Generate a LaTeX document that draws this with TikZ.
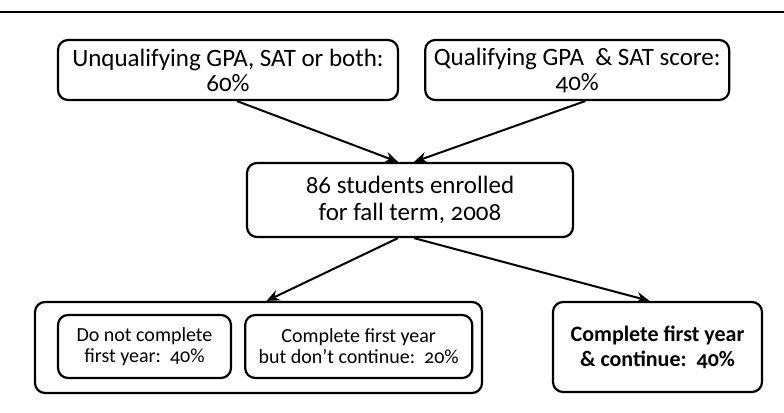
\documentclass[tikz,border=0pt]{standalone}
\usepackage{fontspec}
\setmainfont{Carlito}[Numbers=OldStyle]
\usepackage{tikz}
\usetikzlibrary{arrows.meta,positioning,backgrounds}

\begin{document}
\begin{tikzpicture} [>={Stealth[length=6.5pt,width=5.5pt]}, black, thick, rounded corners=5pt,
	   every node/.style={font=\fontsize{12.5}{12.5}\selectfont},
	   statbox/.style 2 args = {rectangle, draw, line width=1.1pt,
	                            minimum width=#1, minimum height=#2,
	                            align=center, inner sep=1pt},
	   smalltext/.style = {font=\fontsize{10}{10.5}\selectfont},
	   flow/.style = {->, line width=1pt}]
	\useasboundingbox (0,0) rectangle (392pt,-206.5pt);
	%% Scan edge
	\draw [line width=0.8pt, sharp corners] (0,-6pt) -- (392pt,-6pt);

	%% Entry scores
	\node [statbox={170pt}{30pt}] (unqual) at (114pt,-35pt)
	      {Unqualifying GPA, SAT or both:\\60\%};
	\node [statbox={152pt}{30pt},right=12.5pt of unqual] (qual)
	      {Qualifying GPA\ \ \& SAT score:\\40\%};

	%% Enrolment
	\node [statbox={163pt}{37pt},font=\fontsize{12.5}{13.5}\selectfont] (enrol) at (205pt,-100pt)
	      {86 students enrolled\\for fall term, 2008};

	%% Outcomes
	\node [statbox={86.5pt}{31.5pt},smalltext] (drop) at (72.25pt,-173.25pt)
	      {Do not complete\\first year:\ \ 40\%};
	\node [statbox={113.5pt}{31.5pt},smalltext,right=6pt of drop] (stop)
	      {Complete first year\\but don't continue:\ \ 20\%};
	\begin{scope}[on background layer]
		\node [statbox={223.5pt}{45.5pt}] (notcont) at (129.25pt,-173.75pt) {};
	\end{scope}
	\node [statbox={104.5pt}{45pt},font=\fontsize{11}{12.5}\selectfont\bfseries] (cont) at (328.75pt,-173.5pt)
	      {Complete first year\\\&\ continue:\ \ 40\%};

	%% Paths
	\draw [flow] ([xshift=4.5pt]unqual.south) -- ([xshift=-6pt]enrol.north);
	\draw [flow] ([xshift=4pt]qual.south) -- ([xshift=2pt]enrol.north);
	\draw [flow] ([xshift=-6pt]enrol.south) -- ([xshift=4pt]notcont.north);
	\draw [flow] ([xshift=2pt]enrol.south) -- ([xshift=-4pt]cont.north);
\end{tikzpicture}
\end{document}
